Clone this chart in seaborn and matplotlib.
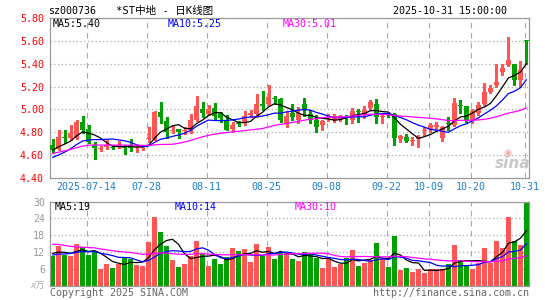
import numpy as np
import pandas as pd
import matplotlib
matplotlib.use('Agg')
import matplotlib.pyplot as plt
import seaborn as sns

sns.set_style('white')
plt.rcParams['font.family'] = ['DejaVu Sans Mono', 'Noto Sans CJK SC']

# ---------------- data ----------------
code = 'sz000736'
title = '*ST中地 - 日K线图'
stamp = '2025-10-31 15:00:00'
holidays = ['2025-10-01', '2025-10-02', '2025-10-03', '2025-10-06', '2025-10-07', '2025-10-08']
dates = [d.strftime('%Y-%m-%d') for d in pd.bdate_range('2025-07-04', '2025-10-31')
         if d.strftime('%Y-%m-%d') not in holidays]

opens = [4.69, 4.65, 4.755, 4.745, 4.75, 4.89, 4.83, 4.69, 4.65, 4.665,
         4.67, 4.68, 4.67, 4.685, 4.66, 4.66, 4.74, 4.74, 4.98, 4.90,
         4.81, 4.825, 4.815, 4.82, 4.91, 5.005, 4.955, 5.01, 4.965, 4.905,
         4.825, 4.88, 4.875, 4.948, 4.957, 5.04, 5.045, 5.10, 5.086, 4.88,
         4.97, 4.905, 5.045, 4.957, 4.91, 4.86, 4.925, 4.91, 4.915, 4.935,
         4.91, 4.98, 4.948, 5.007, 5.045, 4.935, 4.958, 4.96, 4.735, 4.76,
         4.725, 4.735, 4.815, 4.83, 4.84, 4.745, 4.88, 4.86, 5.04, 5.027,
         4.905, 4.97, 5.045, 5.153, 5.21, 5.33, 5.39, 5.40, 5.255, 5.61]
highs = [4.74, 4.82, 4.82, 4.86, 4.91, 4.94, 4.86, 4.71, 4.68, 4.73,
         4.69, 4.72, 4.69, 4.74, 4.685, 4.685, 4.84, 4.985, 5.06, 4.93,
         4.86, 4.83, 4.84, 4.96, 5.115, 5.06, 5.036, 5.056, 4.977, 4.948,
         4.89, 4.90, 4.987, 4.99, 5.133, 5.159, 5.21, 5.12, 5.10, 4.977,
         5.045, 5.016, 5.10, 4.99, 4.948, 4.905, 4.96, 4.96, 4.95, 4.95,
         5.01, 5.00, 5.03, 5.085, 5.086, 4.963, 4.97, 4.97, 4.77, 4.78,
         4.76, 4.77, 4.845, 4.875, 4.89, 4.85, 4.93, 5.095, 5.08, 5.03,
         5.00, 5.06, 5.23, 5.21, 5.40, 5.40, 5.635, 5.40, 5.425, 5.61]
lows = [4.62, 4.64, 4.70, 4.73, 4.74, 4.79, 4.70, 4.56, 4.63, 4.65,
        4.65, 4.66, 4.61, 4.63, 4.62, 4.645, 4.71, 4.73, 4.88, 4.745,
        4.79, 4.75, 4.78, 4.79, 4.90, 4.935, 4.95, 4.905, 4.89, 4.815,
        4.80, 4.85, 4.86, 4.93, 4.928, 4.99, 5.036, 5.05, 4.89, 4.845,
        4.905, 4.88, 4.94, 4.88, 4.80, 4.82, 4.90, 4.89, 4.90, 4.87,
        4.88, 4.89, 4.92, 4.99, 4.88, 4.88, 4.93, 4.685, 4.71, 4.71,
        4.685, 4.67, 4.77, 4.80, 4.82, 4.72, 4.82, 4.85, 4.963, 4.89,
        4.88, 4.95, 5.036, 5.14, 5.20, 5.30, 5.378, 5.21, 5.197, 5.40]
closes = [4.64, 4.76, 4.745, 4.79, 4.89, 4.82, 4.71, 4.66, 4.655, 4.69,
          4.665, 4.685, 4.665, 4.66, 4.665, 4.675, 4.745, 4.98, 4.93, 4.80,
          4.815, 4.80, 4.82, 4.905, 5.03, 4.97, 5.00, 4.94, 4.92, 4.82,
          4.86, 4.875, 4.94, 4.97, 5.045, 5.035, 5.11, 5.086, 4.91, 4.94,
          4.93, 4.963, 4.99, 4.91, 4.845, 4.895, 4.93, 4.94, 4.94, 4.925,
          4.987, 4.975, 4.99, 5.06, 4.93, 4.945, 4.952, 4.745, 4.765, 4.725,
          4.73, 4.757, 4.82, 4.86, 4.86, 4.845, 4.87, 5.056, 5.03, 4.898,
          4.983, 5.036, 5.153, 5.19, 5.24, 5.367, 5.43, 5.26, 5.343, 5.605]
volumes = [10.6, 14.2, 10.8, 10.6, 14.8, 13.8, 10.9, 12.4, 5.8, 7.8,
           6.1, 7.8, 10.2, 9.6, 7.3, 7.0, 15.6, 24.6, 19.2, 14.2,
           9.1, 6.6, 7.8, 10.6, 16.0, 11.2, 7.0, 9.6, 7.8, 10.2,
           13.3, 12.4, 13.2, 8.4, 15.0, 10.6, 13.8, 9.6, 12.0, 11.4,
           9.6, 8.8, 12.0, 11.2, 10.0, 6.2, 9.4, 6.6, 7.8, 10.0,
           12.7, 7.0, 8.2, 9.0, 15.2, 9.4, 6.6, 17.8, 5.6, 6.2,
           4.8, 5.8, 4.6, 6.0, 5.8, 6.0, 7.8, 14.5, 9.0, 7.0,
           6.0, 8.0, 13.5, 8.0, 16.0, 13.6, 24.6, 16.0, 14.5, 29.4]
# sessions before the first visible candle (only feed the moving averages)
prior_closes = [4.38, 4.40, 4.42, 4.41, 4.43, 4.425, 4.64, 4.66, 4.68, 4.70,
                4.66, 4.67, 4.68, 4.67, 4.72, 4.76, 4.85, 4.82, 4.78, 4.77,
                4.55, 4.50, 4.49, 4.52, 4.51, 4.61, 4.63, 4.66, 4.66]
prior_volumes = [18, 20, 22, 19, 17, 16, 15, 18, 16, 17,
                 15, 16, 14, 18, 17, 15, 16, 14, 15, 17,
                 11, 10, 9, 11, 10.5, 12, 11, 12.5, 11.4]

tick_dates = ['2025-07-14', '2025-07-28', '2025-08-11', '2025-08-25', '2025-09-08',
              '2025-09-22', '2025-10-09', '2025-10-20', '2025-10-31']
tick_labels = ['2025-07-14', '07-28', '08-11', '08-25', '09-08',
               '09-22', '10-09', '10-20', '10-31']
price_ticks = [4.40, 4.60, 4.80, 5.00, 5.20, 5.40, 5.60, 5.80]
vol_ticks = [6, 12, 18, 24, 30]
price_ma_labels = ['MA5:5.40', 'MA10:5.25', 'MA30:5.01']
vol_ma_labels = ['MA5:19', 'MA10:14', 'MA30:10']

# ---------------- style ----------------
RED = '#ff5555'
GREEN = '#00a000'
MA_COLORS = ['#000000', '#0000ff', '#ff00ff']
GRID = '#aaaaaa'
FRAME = '#999999'
BLUE_TXT = '#1a7fd4'

W, H = 545, 300
fig = plt.figure(figsize=(W / 100, H / 100), dpi=100)
fig.patch.set_facecolor('white')


def fx(px):
    return px / W


def fy(py):
    return 1 - py / H


ax = fig.add_axes([fx(50), fy(177.5), fx(529) - fx(50), fy(18.3) - fy(177.5)])
axv = fig.add_axes([fx(50), fy(285.5), fx(529) - fx(50), fy(201.7) - fy(285.5)])

n = len(closes)
idx = np.arange(n)
o = np.array(opens)
c = np.array(closes)
up = c >= o
cols = np.where(up, RED, GREEN)
tick_pos = np.array([dates.index(d) for d in tick_dates]) - 0.3

for a in (ax, axv):
    a.set_facecolor('white')
    for s in a.spines.values():
        s.set_color(FRAME)
        s.set_linewidth(0.9)
    a.tick_params(length=0)
    a.set_xlim(-0.42, n - 0.58)
    for p in tick_pos:
        a.axvline(p, color=GRID, ls=(0, (5, 4)), lw=0.8, zorder=0)

# ---- price panel ----
ax.set_ylim(price_ticks[0], price_ticks[-1])
for yv in price_ticks[1:-1]:
    ax.axhline(yv, color=GRID, ls=(0, (1, 2)), lw=0.9, zorder=0)

ax.vlines(idx, lows, highs, colors=cols, lw=0.8, zorder=2, antialiased=False)
diff = np.abs(c - o)
minh = 0.009
body_h = np.maximum(diff, minh)
body_b = np.where(diff < minh, (o + c) / 2 - minh / 2, np.minimum(o, c))
ax.bar(idx, body_h, bottom=body_b, width=0.78, color=cols, linewidth=0, zorder=3)

full_c = pd.Series(prior_closes + closes)
n0 = len(prior_closes)
for w, col in zip((5, 10, 30), MA_COLORS):
    ma = full_c.rolling(w).mean().iloc[n0:].to_numpy()
    sns.lineplot(x=idx, y=ma, ax=ax, color=col, lw=0.9, zorder=4)

ax.set_yticks(price_ticks)
ax.set_yticklabels([f'{v:.2f}' for v in price_ticks], color='#ff0000', fontsize=7.2)
ax.tick_params(axis='y', pad=4.3)
ax.set_xticks(tick_pos)
ax.set_xticklabels(tick_labels, color=BLUE_TXT, fontsize=7.2)
ax.tick_params(axis='x', pad=3.5)

# ---- volume panel ----
axv.set_ylim(0, 30)
for yv in vol_ticks[:-1]:
    axv.axhline(yv, color=GRID, ls=(0, (1, 2)), lw=0.9, zorder=0)
axv.bar(idx, volumes, width=0.8, color=cols, linewidth=0, zorder=2)
full_v = pd.Series(prior_volumes + volumes)
nv0 = len(prior_volumes)
for w, col in zip((5, 10, 30), MA_COLORS):
    ma = full_v.rolling(w).mean().iloc[nv0:].to_numpy()
    sns.lineplot(x=idx, y=ma, ax=axv, color=col, lw=0.9, zorder=4)
axv.set_yticks(vol_ticks)
axv.set_yticklabels([str(v) for v in vol_ticks], color='#999999', fontsize=7.2)
axv.tick_params(axis='y', pad=3.5)
axv.set_xticks([])

# ---- texts ----
fs = 7.2
fig.text(fx(48), fy(11), code, fontsize=fs, va='center', ha='left', color='black')
fig.text(fx(116), fy(11), title, fontsize=7.6, va='center', ha='left', color='black')
fig.text(fx(507), fy(11), stamp, fontsize=fs, va='center', ha='right', color='black')

for lab, x0, col in zip(price_ma_labels, (52.5, 167.5, 282.5), MA_COLORS):
    fig.text(fx(x0), fy(24.3), lab, fontsize=fs, va='center', ha='left', color=col)
for lab, x0, col in zip(vol_ma_labels, (55, 175, 295), MA_COLORS):
    fig.text(fx(x0), fy(206.5), lab, fontsize=fs, va='center', ha='left', color=col)

fig.text(fx(45), fy(286), 'x万', fontsize=6.5, va='center', ha='right', color='#aaaaaa',
         style='italic')
fig.text(fx(50), fy(292.5), 'Copyright 2025 SINA.COM', fontsize=fs, va='center',
         ha='left', color='#666666')
fig.text(fx(529), fy(292.5), 'http://finance.sina.com.cn', fontsize=fs, va='center',
         ha='right', color='#666666')

# sina watermark
fig.text(fx(513), fy(164), 'sina', fontsize=11, va='center', ha='center', color='#c8c8c8',
         style='italic', fontweight='bold', family='DejaVu Sans')
fig.text(fx(508), fy(153), '◉', fontsize=7, va='center', ha='center', color='#f4b0b0',
         family='DejaVu Sans')

fig.savefig('out.png', dpi=100, facecolor='white')
